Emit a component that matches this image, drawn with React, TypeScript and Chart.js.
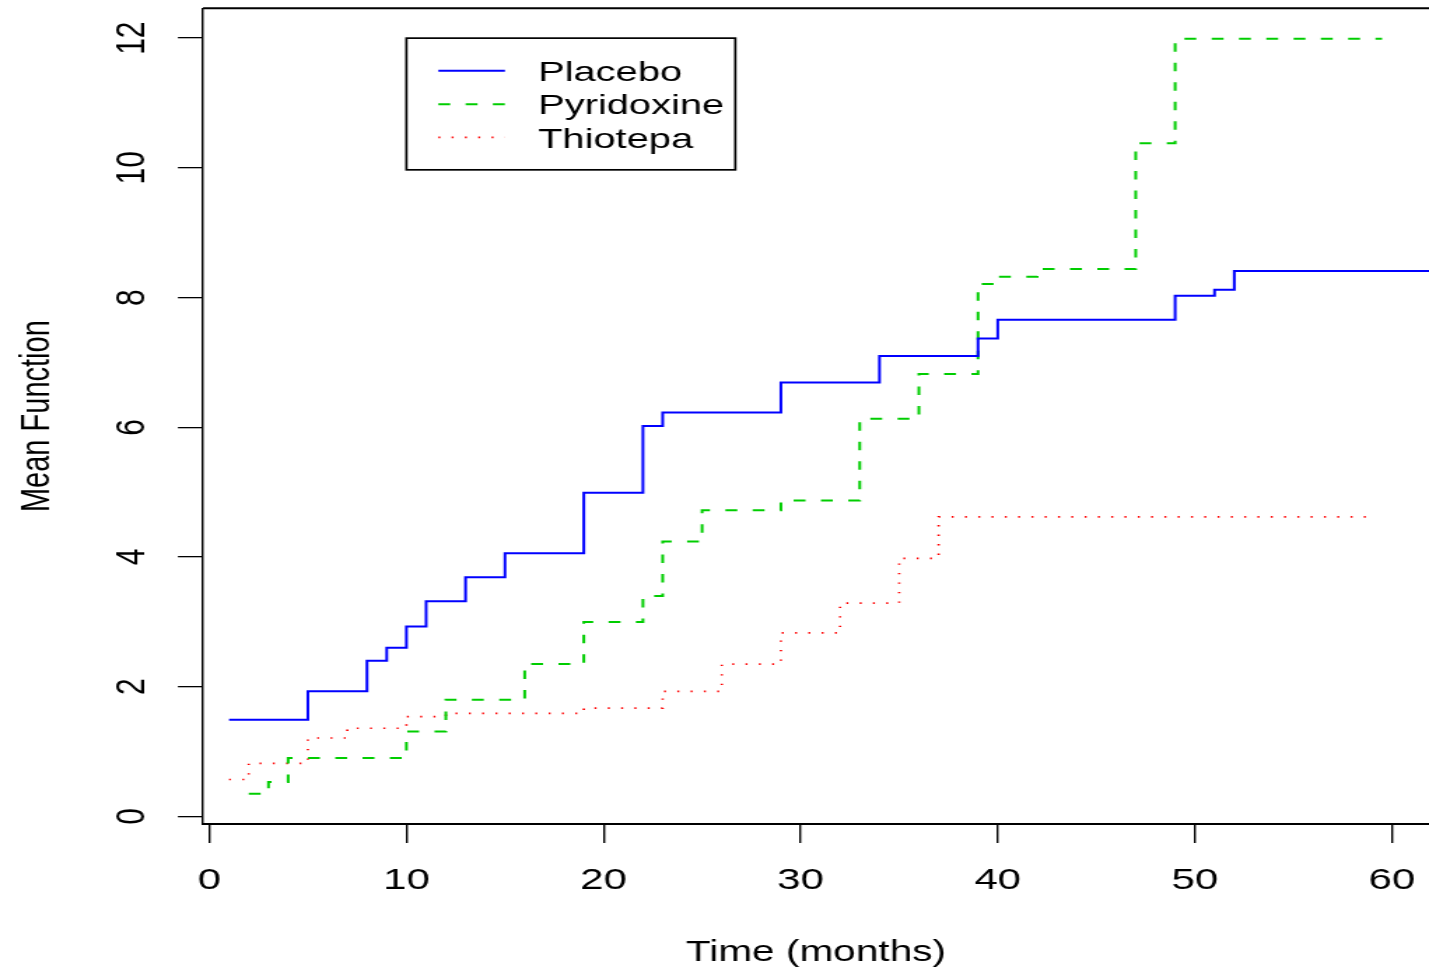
import React, { useEffect, useRef } from 'react';
import { Chart, registerables } from 'chart.js';

Chart.register(...registerables);

// ---------- data ----------
const placeboTimes = [1, 5, 8, 9, 10, 11, 13, 15, 19, 22, 23, 29, 34, 39, 40, 49, 51, 52, 64];
const placeboMean = [1.49, 1.93, 2.40, 2.60, 2.93, 3.32, 3.69, 4.06, 4.99, 6.02, 6.23, 6.69, 7.10, 7.37, 7.66, 8.03, 8.12, 8.41, 8.41];

const pyridoxineTimes = [2, 3, 4, 10, 12, 16, 19, 22, 23, 25, 29, 33, 36, 39, 40, 42, 47, 49, 59.5];
const pyridoxineMean = [0.35, 0.53, 0.90, 1.31, 1.80, 2.35, 3.00, 3.40, 4.24, 4.72, 4.87, 6.13, 6.82, 8.21, 8.32, 8.44, 10.38, 11.99, 11.99];

const thiotepaTimes = [1, 2, 5, 7, 10, 12, 19, 23, 26, 29, 32, 35, 37, 59];
const thiotepaMean = [0.57, 0.82, 1.21, 1.36, 1.54, 1.59, 1.67, 1.93, 2.35, 2.83, 3.29, 3.98, 4.62, 4.62];

const seriesLabels = ['Placebo', 'Pyridoxine', 'Thiotepa'];

const xTicks = [0, 10, 20, 30, 40, 50, 60];
const yTicks = [0, 2, 4, 6, 8, 10, 12];
const xLimits = [-0.32, 61.88];
const yLimits = [-0.116, 12.46];
const legendAnchor = [10, 12]; // legend top-left corner, in data units

const xTitle = 'Time (months)';
const yTitle = 'Mean Function';

// ---------- rendering setup ----------
const FONT = "'Liberation Sans', Arial, Helvetica, sans-serif";
const PAGE_W = 1429;
const PAGE_H = 972;
const CANVAS_W = 1021; // drawn on a narrower device, stretched horizontally like the reference
const STRETCH = PAGE_W / CANVAS_W;

const toPoints = (t: number[], v: number[]) => t.map((x, i) => ({ x, y: v[i] }));

const boxLegend = {
  id: 'boxLegend',
  afterDraw(chart: any) {
    const { ctx, scales } = chart;
    const left = scales.x.getPixelForValue(legendAnchor[0]);
    const top = scales.y.getPixelForValue(legendAnchor[1]);
    const width = 235;
    const height = 131.7;
    ctx.save();
    ctx.fillStyle = '#ffffff';
    ctx.fillRect(left, top, width, height);
    ctx.strokeStyle = '#000000';
    ctx.lineWidth = 1.7;
    ctx.setLineDash([]);
    ctx.strokeRect(left, top, width, height);
    chart.data.datasets.forEach((ds: any, i: number) => {
      const yy = top + 32.7 + i * 33.3;
      ctx.beginPath();
      ctx.setLineDash(ds.borderDash || []);
      ctx.strokeStyle = ds.borderColor;
      ctx.lineWidth = ds.borderWidth;
      ctx.moveTo(left + 22.8, yy);
      ctx.lineTo(left + 70.4, yy);
      ctx.stroke();
      ctx.setLineDash([]);
      ctx.fillStyle = '#000000';
      ctx.font = `28.5px ${FONT}`;
      ctx.textBaseline = 'middle';
      ctx.textAlign = 'left';
      ctx.fillText(ds.label, left + 94, yy + 2.5);
    });
    ctx.restore();
  },
};

const topFrame = {
  id: 'topFrame',
  afterDraw(chart: any) {
    const { ctx, chartArea } = chart;
    ctx.save();
    ctx.strokeStyle = '#000000';
    ctx.lineWidth = 2;
    ctx.beginPath();
    ctx.moveTo(chartArea.left, chartArea.top);
    ctx.lineTo(chartArea.right + 2, chartArea.top);
    ctx.stroke();
    ctx.restore();
  },
};

export default function App() {
  const canvasRef = useRef<HTMLCanvasElement | null>(null);

  useEffect(() => {
    if (!canvasRef.current) return;
    const font = { family: FONT, size: 30 };
    const titleFont = { family: FONT, size: 29 };
    const chart = new Chart(canvasRef.current, {
      type: 'line',
      data: {
        datasets: [
          {
            label: seriesLabels[0],
            data: toPoints(placeboTimes, placeboMean),
            borderColor: '#0000ff',
            borderWidth: 2,
            borderDash: [],
            stepped: true,
            pointRadius: 0,
          },
          {
            label: seriesLabels[1],
            data: toPoints(pyridoxineTimes, pyridoxineMean),
            borderColor: '#00cd00',
            borderWidth: 2,
            borderDash: [8.5, 11],
            stepped: true,
            pointRadius: 0,
          },
          {
            label: seriesLabels[2],
            data: toPoints(thiotepaTimes, thiotepaMean),
            borderColor: '#ff0000',
            borderWidth: 1.7,
            borderDash: [1.4, 8.1],
            stepped: true,
            pointRadius: 0,
          },
        ],
      },
      options: {
        responsive: false,
        animation: false,
        events: [],
        layout: { padding: { top: 8.3, right: 0, bottom: 0, left: 0 } },
        plugins: { legend: { display: false }, tooltip: { enabled: false } },
        scales: {
          x: {
            type: 'linear',
            min: xLimits[0],
            max: xLimits[1],
            afterBuildTicks: (s: any) => {
              s.ticks = xTicks.map((v) => ({ value: v }));
            },
            afterFit: (s: any) => {
              s.height = 148;
              s.paddingLeft = 0;
              s.paddingRight = 0;
            },
            ticks: {
              font,
              color: '#000000',
              padding: 19.5,
              minRotation: 0,
              maxRotation: 0,
              autoSkip: false,
              callback: (v: any) => String(v),
            },
            grid: {
              drawOnChartArea: false,
              drawTicks: true,
              tickLength: 19,
              color: '#000000',
              lineWidth: 1.4,
            },
            border: { display: true, color: '#000000', width: 2 },
            title: {
              display: true,
              text: xTitle,
              font: titleFont,
              color: '#000000',
              padding: { top: 0, bottom: 1.2 },
            },
          },
          y: {
            type: 'linear',
            min: yLimits[0],
            max: yLimits[1],
            afterBuildTicks: (s: any) => {
              s.ticks = yTicks.map((v) => ({ value: v }));
            },
            afterFit: (s: any) => {
              s.width = 145.04;
              s.paddingTop = 0;
              s.paddingBottom = 0;
            },
            ticks: {
              font,
              color: '#000000',
              padding: 15.8,
              minRotation: 90,
              maxRotation: 90,
              crossAlign: 'center',
              autoSkip: false,
              callback: (v: any) => String(v),
            },
            grid: {
              drawOnChartArea: false,
              drawTicks: true,
              tickLength: 17.9,
              color: '#000000',
              lineWidth: 1.3,
            },
            border: { display: true, color: '#000000', width: 1.45 },
            title: {
              display: true,
              text: yTitle,
              font: titleFont,
              color: '#000000',
              padding: { top: 10, bottom: 0 },
            },
          },
        },
      },
      plugins: [topFrame, boxLegend],
    } as any);
    return () => chart.destroy();
  }, []);

  return (
    <div
      style={{
        position: 'fixed',
        left: 0,
        top: 0,
        width: PAGE_W,
        height: PAGE_H,
        overflow: 'hidden',
        background: '#ffffff',
      }}
    >
      <div
        style={{
          width: CANVAS_W,
          height: PAGE_H,
          transform: `scaleX(${STRETCH})`,
          transformOrigin: '0 0',
        }}
      >
        <canvas ref={canvasRef} width={CANVAS_W} height={PAGE_H} style={{ display: 'block' }} />
      </div>
    </div>
  );
}
